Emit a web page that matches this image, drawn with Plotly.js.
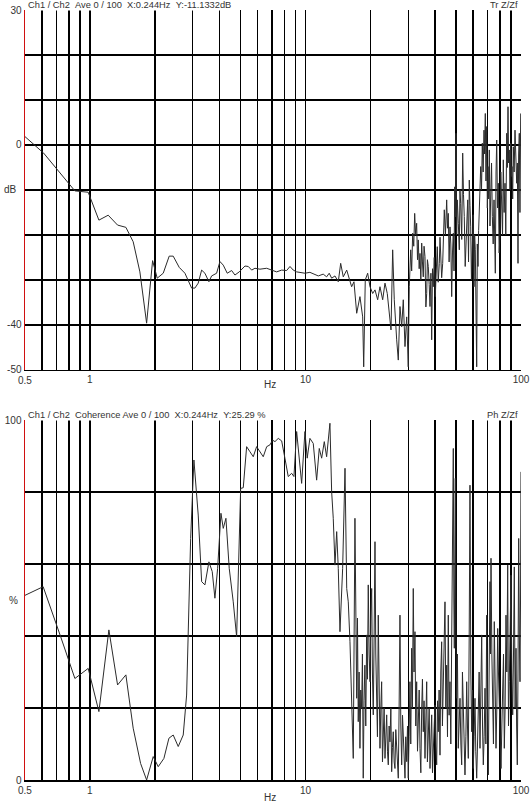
<!DOCTYPE html>
<html>
<head>
<meta charset="utf-8">
<script src="https://cdn.plot.ly/plotly-3.0.1.min.js"></script>
<style>
html,body{margin:0;padding:0;background:#fff;}
#chart{width:531px;height:802px;}
</style>
</head>
<body>
<div id="chart"></div>
<script>
// ---------- data ----------
// Transfer function (Tr Z/Zf): frequency in Hz, magnitude in dB
const trFreqHz = [0.488,0.61,0.852,0.982,1.101,1.216,1.344,1.469,1.588,1.706,1.833,1.954,2.053,2.189,2.333,2.435,2.597,2.76,2.965,3.071,3.181,3.299,3.417,3.566,3.67,3.872,4.012,4.156,4.337,4.546,4.709,4.93,5.24,5.43,5.63,5.83,6.15,6.61,6.97,7.353,7.756,8.18,8.478,8.778,9.103,9.5,9.947,10.49,11.07,11.47,12.09,12.54,12.89,13.23,13.71,14.2,14.57,14.98,15.54,15.97,16.38,16.79,17.29,17.9,18.43,18.63,18.95,19.44,19.93,20.51,21.02,21.63,22.17,22.82,23.39,23.97,24.49,24.94,25.39,25.83,26.5,26.96,27.45,27.96,28.44,28.96,29.49,29.99,
  30.32,30.55,30.78,31.1,31.44,31.8,32.12,32.45,32.81,33.1,33.38,33.7,33.99,34.3,34.62,34.9,35.21,35.5,35.86,36.2,36.52,36.8,37.14,37.5,37.83,38.2,38.52,38.85,39.17,39.6,40.02,40.45,40.89,41.3,41.78,42.1,42.41,42.85,43.32,43.7,44.07,44.6,45.21,45.6,45.99,46.4,46.83,47.25,47.7,48.1,48.52,48.9,49.25,49.6,49.94,50.3,50.64,51.2,51.73,52.1,52.51,53.1,53.64,54.1,54.56,55.1,55.57,56.1,56.58,57.1,57.56,58.0,58.43,58.9,59.43,60.0,60.53,60.95,61.38,61.85,62.3,62.7,63.17,63.6,64.06,64.5,65.02,65.6,66.14,66.75,67.36,67.8,68.3,68.8,69.33,69.8,70.31,70.8,71.29,71.8,72.37,73.0,73.62,74.3,74.97,75.5,76.01,76.6,77.16,77.8,78.47,79.2,79.91,80.6,81.36,82.1,82.78,83.5,84.29,85.0,85.83,86.4,87.04,87.6,88.25,88.9,89.58,90.2,90.83,91.5,92.11,92.9,93.8,94.6,95.5,96.2,96.85,97.5,98.2,98.9,99.68];
const trDb = [2.3,-1.8,-10.2,-10.5,-16.7,-15.6,-17.8,-18.3,-21.5,-28.2,-39.6,-25.7,-29.6,-28.5,-24.7,-24.7,-27.2,-28.5,-31.8,-31.8,-30.7,-27.8,-28.5,-30.4,-29.1,-28.5,-25.9,-26.7,-28.5,-27.9,-28.9,-28.2,-26.9,-27.0,-27.8,-27.4,-27.6,-27.4,-27.8,-28.2,-27.8,-27.9,-27.0,-27.8,-28.2,-28.4,-28.5,-28.3,-28.7,-29.1,-28.7,-29.3,-28.5,-29.6,-29.1,-30.4,-26.3,-29.3,-27.8,-30.0,-31.5,-30.4,-37.4,-33.7,-38.2,-49.3,-30.0,-28.5,-31.5,-33.0,-32.2,-34.4,-31.5,-34.4,-30.7,-33.0,-37.4,-41.1,-23.3,-34.4,-43.3,-47.8,-35.9,-40.4,-34.4,-44.8,-38.2,-49.3,
  -31.5,-26.0,-23.3,-28.0,-19.6,-22.5,-15.2,-20.0,-17.4,-25.5,-21.1,-27.5,-24.1,-30.0,-21.8,-26.0,-29.3,-22.5,-24.8,-36.0,-33.0,-25.5,-27.0,-31.0,-35.9,-28.5,-43.3,-27.5,-31.5,-25.0,-33.7,-28.0,-22.6,-30.5,-26.3,-20.5,-24.1,-29.5,-26.3,-19.0,-14.4,-20.0,-12.2,-18.5,-15.2,-26.0,-18.2,-22.0,-33.7,-24.0,-19.6,-28.0,-9.3,-16.0,2.6,-20.0,-12.2,-17.5,-23.3,-10.0,-13.0,-21.0,-1.8,-11.0,-15.9,-27.0,-21.1,-17.0,-12.2,-26.0,-7.8,-13.5,-18.2,-30.0,-24.8,-15.5,-31.5,-20.0,-23.3,-33.0,-49.3,-22.0,-27.0,-19.0,-14.4,-9.0,-4.8,-10.0,0.4,-6.0,3.3,-2.0,7.0,-8.0,4.1,-14.0,-4.8,-12.0,-1.1,-18.0,-10.7,-4.0,-15.9,-22.0,-12.2,-18.0,-28.5,-6.0,1.1,-14.0,-8.5,-24.0,-19.6,-6.0,-12.2,-20.0,-3.3,-15.0,-8.5,-20.0,2.6,-5.0,8.5,-4.0,-1.1,-10.0,0.4,-7.0,-4.8,-12.0,-0.4,-6.0,3.3,-3.0,-8.5,-4.0,-26.3,-2.0,2.6,-15.0,7.0];

// Coherence (Ph Z/Zf): frequency in Hz, coherence in %
const cohFreqHz = [0.488,0.607,0.732,0.852,0.982,1.101,1.225,1.344,1.469,1.588,1.719,1.833,1.967,2.075,2.205,2.326,2.435,2.569,2.71,2.81,2.934,3.038,3.181,3.299,3.417,3.566,3.694,3.802,3.914,4.055,4.156,4.277,4.43,4.624,4.795,5.005,5.146,5.335,5.527,5.726,5.936,6.151,6.371,6.61,6.843,7.043,7.221,7.48,7.756,8.03,8.32,8.63,8.845,9.103,9.36,9.603,9.947,10.19,10.49,10.87,11.27,11.59,11.89,12.23,12.54,12.99,13.23,13.46,13.71,13.96,14.2,14.46,14.88,15.26,15.54,15.8,16.09,16.38,16.67,
  16.97,17.13,17.29,17.43,17.58,17.74,17.9,18.06,18.23,18.38,18.54,18.7,18.87,19.05,19.23,19.4,19.56,19.75,19.93,20.1,20.29,20.45,20.64,20.83,21.02,21.2,21.4,21.58,21.77,21.97,22.17,22.37,22.57,22.77,22.96,23.17,23.39,23.6,23.82,24.02,24.23,24.45,24.66,24.9,25.12,25.33,25.55,25.8,26.02,26.25,26.5,26.73,26.96,27.2,27.45,27.7,27.96,28.2,28.44,28.7,28.96,29.2,29.49,29.75,29.99,30.25,30.54,30.8,31.1,31.35,31.64,31.9,32.22,32.5,32.81,33.1,33.38,33.7,33.99,34.3,34.62,34.9,35.21,35.5,35.86,36.2,36.52,36.8,37.14,37.5,37.83,38.2,38.52,38.85,39.17,39.5,39.89,40.25,40.63,41.0,41.33,41.7,42.09,42.45,42.85,43.2,43.6,44.0,44.4,44.8,45.21,45.6,45.99,46.4,46.83,47.25,47.7,48.1,48.52,48.8,49.05,49.3,49.57,49.9,50.29,50.7,51.17,51.6,52.12,52.6,53.07,53.5,54.0,54.5,54.97,55.5,55.98,56.45,56.95,57.5,57.99,58.5,59.05,59.55,60.08,60.6,61.17,61.7,62.3,62.85,63.38,63.95,64.53,65.1,65.72,66.3,66.86,67.45,68.08,68.7,69.33,69.9,70.52,71.15,71.81,72.2,72.58,73.25,73.91,74.5,75.18,75.85,76.56,77.25,77.97,78.6,79.31,80.0,80.76,81.5,82.24,82.95,83.66,84.4,85.19,85.95,86.76,87.5,88.25,89.05,89.87,90.7,91.52,92.3,93.09,93.9,94.8,95.45,96.12,96.85,97.57,98.25,98.95,99.5,99.97];
const cohPct = [51.0,53.7,39.8,28.2,31.0,19.0,41.7,26.4,29.2,14.4,4.6,0,6.5,3.7,6.0,11.6,12.5,9.3,12.5,23.6,67.1,88.9,73.6,55.1,54.2,60.6,57.9,50.5,58.8,74.1,69.9,72.7,58.8,49.5,39.8,81.0,81.2,92.6,91.2,89.8,92.6,91.2,89.8,92.6,93.1,94.4,94.0,94.9,94.2,89.4,84.3,85.2,84.3,96.8,89.4,82.4,96.8,89.4,94.9,93.5,83.3,92.1,89.4,94.0,89.8,99.1,80.1,72.7,59.7,69.0,58.8,41.2,58.8,86.6,53.2,49.5,38.4,19.9,6.0,
  72.7,35.0,22.7,45.0,16.2,30.0,8.8,25.0,19.9,35.0,0.5,22.0,31.9,15.0,40.3,28.0,54.2,35.0,27.3,45.0,53.2,30.0,18.1,40.0,66.2,35.0,20.8,12.0,45.8,22.0,8.8,20.0,27.3,5.0,13.4,20.0,6.0,12.0,18.1,8.0,4.2,15.0,10.6,20.0,2.3,9.0,13.4,5.0,3.2,14.0,8.8,3.0,0.5,20.0,45.8,15.0,4.2,18.0,10.6,3.0,0.5,12.0,5.1,15.0,0.5,12.0,27.3,10.0,36.6,20.0,53.2,30.0,41.2,15.0,27.3,8.0,18.1,25.0,8.8,2.0,19.9,28.0,13.4,22.0,6.0,15.0,27.3,5.0,12.5,20.0,3.2,10.0,18.1,2.0,8.8,14.0,20.8,10.0,4.2,22.0,13.4,25.0,6.9,30.0,38.4,15.0,29.2,40.0,49.5,20.0,31.9,12.0,45.8,18.0,27.3,10.0,34.7,55.0,92.1,50.0,36.6,60.0,83.8,40.0,22.7,35.0,8.8,15.0,22.7,10.0,4.2,30.0,18.1,8.0,1.4,12.0,27.3,15.0,6.0,40.0,81.9,30.0,13.4,25.0,3.2,12.0,22.7,8.0,0.5,10.0,18.1,30.0,8.8,20.0,40.3,15.0,4.2,12.0,25.5,10.0,45.8,20.0,1.4,30.0,55.1,35.0,61.6,35.0,18.1,10.0,44.0,25.0,8.8,20.0,42.1,30.0,18.1,10.0,3.2,15.0,24.5,35.0,8.8,20.0,45.8,30.0,59.7,15.0,27.3,40.0,56.9,30.0,18.1,35.0,59.2,20.0,36.6,15.0,4.2,30.0,67.1,40.0,27.3,50.0,85.6];

// axis grid / tick labels
const xGridHz = [0.5,0.6,0.7,0.8,0.9,1,2,3,4,5,6,7,8,9,10,20,30,40,50,60,70,80,90,100];
const xGridText = ['','','','','','1','','','','','','','','','10','','','','','','','','','100'];
const dbGrid = [30,20,10,0,-10,-20,-30,-40,-50];
const dbGridText = ['30','','','0','','','','-40','-50'];
const pctGrid = [100,80,60,40,20,0];
const pctGridText = ['100','','','','','0'];
const topHeader = 'Ch1 / Ch2\u00a0\u00a0Ave 0 / 100\u00a0\u00a0X:0.244Hz\u00a0\u00a0Y:-11.1332dB';
const botHeader = 'Ch1 / Ch2\u00a0\u00a0Coherence Ave 0 / 100\u00a0\u00a0X:0.244Hz\u00a0\u00a0Y:25.29 %';

// ---------- plot ----------
const FONT = 'Liberation Sans, Arial, sans-serif';
const TXT = '#333333';
const lineStyle = {color:'#2b2b2b', width:1};

const traces = [
  {x: trFreqHz, y: trDb, type:'scatter', mode:'lines', line: lineStyle, xaxis:'x', yaxis:'y', hoverinfo:'skip'},
  {x: cohFreqHz, y: cohPct, type:'scatter', mode:'lines', line: lineStyle, xaxis:'x2', yaxis:'y2', hoverinfo:'skip'}
];

function xAxis(anchor){
  return {
    type:'log', range:[Math.log10(0.5), 2], anchor: anchor, domain:[0,1],
    tickmode:'array', tickvals: xGridHz, ticktext: xGridText,
    showgrid:true, gridcolor:'#000', gridwidth:1.5,
    showline:true, linecolor:'#000', linewidth:1.5,
    ticks:'', zeroline:false,
    tickfont:{family:FONT, size:10, color:TXT}
  };
}
function yAxis(anchor, range, vals, text, domain){
  return {
    range: range, anchor: anchor, domain: domain,
    tickmode:'array', tickvals: vals, ticktext: text,
    showgrid:true, gridcolor:'#000', gridwidth:1.5,
    showline:true, linecolor:'#d01010', linewidth:1.5,
    ticks:'', zeroline:false,
    tickfont:{family:FONT, size:10, color:TXT}
  };
}

const ann = (o, size) => Object.assign({showarrow:false, font:{family:FONT, size:size || 10, color:TXT}}, o);

const layout = {
  width:531, height:802,
  margin:{l:25, r:10, t:10, b:22, pad:0},
  paper_bgcolor:'#fff', plot_bgcolor:'#fff',
  showlegend:false,
  xaxis: xAxis('y'),
  yaxis: yAxis('x', [-50,30], dbGrid, dbGridText, [0.5325,1]),
  xaxis2: xAxis('y2'),
  yaxis2: yAxis('x2', [0,100], pctGrid, pctGridText, [0,0.4675]),
  annotations:[
    ann({text: topHeader, xref:'paper', yref:'paper', x:0.004, y:1.0065, xanchor:'left', yanchor:'middle', bgcolor:'#fff', borderpad:0}, 9.3),
    ann({text:'Tr Z/Zf', xref:'paper', yref:'paper', x:0.996, y:1.0065, xanchor:'right', yanchor:'middle', bgcolor:'#fff', borderpad:0}, 9.3),
    ann({text: botHeader, xref:'paper', yref:'paper', x:0.004, y:0.474, xanchor:'left', yanchor:'middle', bgcolor:'#fff', borderpad:0}, 9.3),
    ann({text:'Ph Z/Zf', xref:'paper', yref:'paper', x:0.996, y:0.474, xanchor:'right', yanchor:'middle', bgcolor:'#fff', borderpad:0}, 9.3),
    ann({text:'dB', xref:'paper', yref:'y', x:-0.030, y:-10, xanchor:'center', yanchor:'middle'}),
    ann({text:'%', xref:'paper', yref:'y2', x:-0.024, y:50, xanchor:'center', yanchor:'middle'}),
    ann({text:'0.5', xref:'paper', yref:'paper', x:0, y:0.5182, xanchor:'center', yanchor:'middle'}),
    ann({text:'0.5', xref:'paper', yref:'paper', x:0, y:-0.013, xanchor:'center', yanchor:'middle'}),
    ann({text:'Hz', xref:'paper', yref:'paper', x:0.494, y:0.513, xanchor:'center', yanchor:'middle'}),
    ann({text:'Hz', xref:'paper', yref:'paper', x:0.494, y:-0.0221, xanchor:'center', yanchor:'middle'})
  ]
};

Plotly.newPlot('chart', traces, layout, {staticPlot:true, displayModeBar:false});
</script>
</body>
</html>
